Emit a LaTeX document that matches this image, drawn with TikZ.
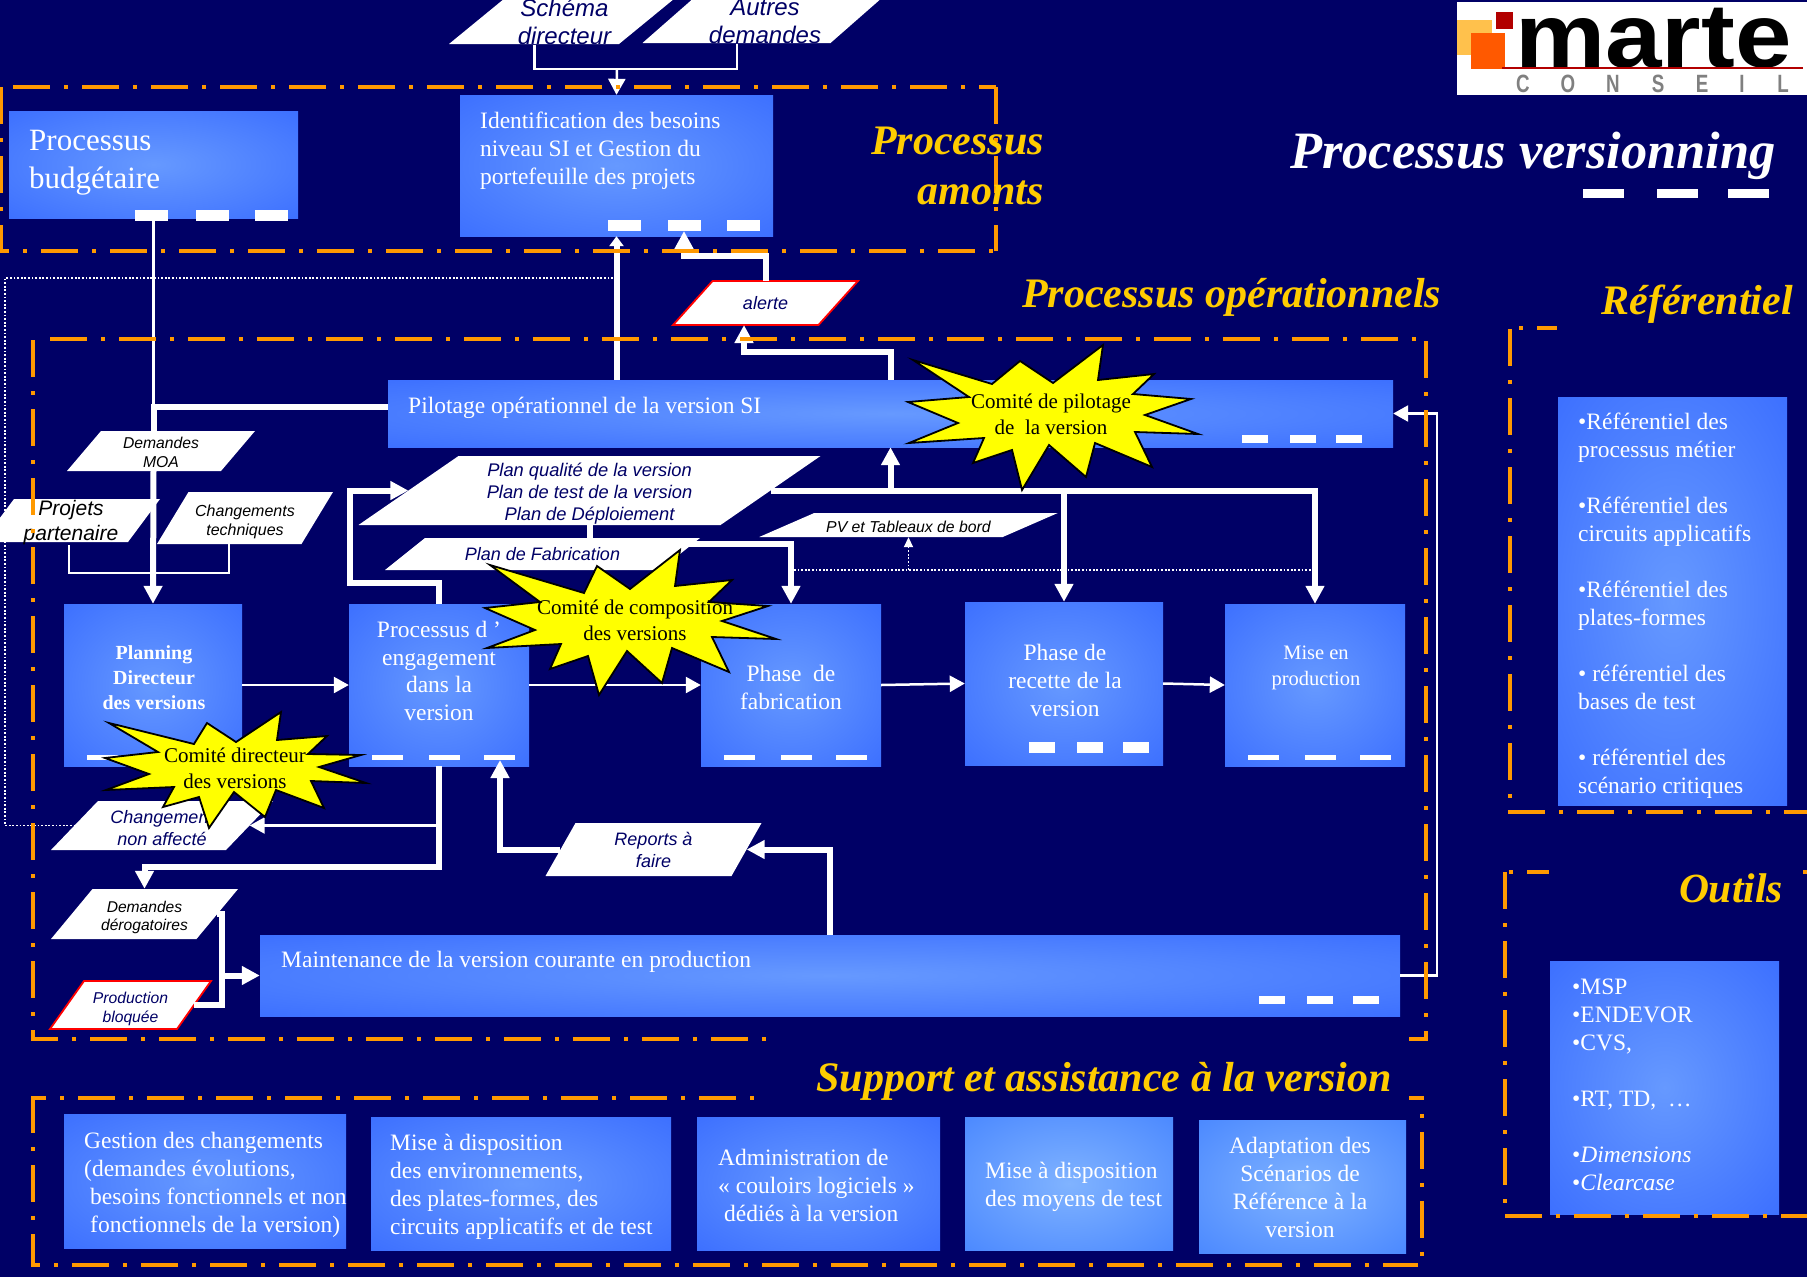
\documentclass[tikz,border=0pt]{standalone}
\usepackage{fontspec}
\setmainfont{Liberation Serif}
\newfontfamily\sheetfont{Liberation Sans}
\usetikzlibrary{arrows.meta}
\definecolor{navybg}{HTML}{000066}
\definecolor{framedash}{HTML}{FF9900}
\definecolor{titlegold}{HTML}{FFCC00}
\definecolor{burstfill}{HTML}{FFFF00}
\definecolor{glowmid}{HTML}{6699FF}
\definecolor{glowedge}{HTML}{3366FF}
\definecolor{softmid}{HTML}{80B3FF}
\definecolor{softedge}{HTML}{3F7FFF}
\pgfdeclareradialshading{panelglow}{\pgfpoint{0bp}{0bp}}{color(0bp)=(glowmid);color(44bp)=(glowedge);color(50bp)=(glowedge)}
\pgfdeclareradialshading{panelsoft}{\pgfpoint{0bp}{0bp}}{color(0bp)=(softmid);color(44bp)=(softedge);color(50bp)=(softedge)}
\newcommand{\fz}[2]{\fontsize{#1}{#2}\selectfont}
\newcommand{\dn}[1]{\rule{0pt}{#1pt}}
% polygon style, name, centre x, centre y, edge width, height, slant, node options, text
\newcommand{\sheetbox}[9][sheetplain]{
\fill[#1] ({#3-#5/2-#7/2},{#4+#6/2})--({#3-#5/2+#7/2},{#4-#6/2})--({#3+#5/2+#7/2},{#4-#6/2})--({#3+#5/2-#7/2},{#4+#6/2})--cycle;
\node (#2) [sheetlabel, #8, minimum width=#5pt, minimum height=#6pt] at (#3,#4) {#9};
}
\tikzset{
panelbox/.style 2 args={shade, shading=panelglow, minimum width=#1pt, minimum height=#2pt, inner sep=0pt},
softbox/.style 2 args={shade, shading=panelsoft, minimum width=#1pt, minimum height=#2pt, inner sep=0pt},
paneltext/.style={text=white, inner sep=0pt, align=left, anchor=west},
panelmid/.style={text=white, inner sep=0pt, align=center},
sheetplain/.style={fill=white},
sheetalert/.style={fill=white, draw=red, line width=1.8pt},
sheetlabel/.style={text=navybg, inner sep=0pt, align=center},
sheetsize/.style 2 args={font=\sheetfont\itshape\fz{#1}{#2}},
fatline/.style={white, line width=6pt},
thinline/.style={white, line width=2.5pt},
thinhead/.style={-{Triangle[length=15pt,width=16pt]}},
dotline/.style={white, line width=1.8pt, dash pattern=on 1.8pt off 1.8pt},
framepath/.style={framedash, line width=4pt, dash pattern=on 37pt off 14pt on 4pt off 14pt},
burst/.style={fill=burstfill, draw=black, line width=1.8pt},
bursttext/.style={text=black, inner sep=0pt, align=center, font=\fz{21}{26}},
headline/.style={text=titlegold, inner sep=0pt},
}
\begin{document}
\begin{tikzpicture}[x=1pt,y=-1pt,>={Triangle[length=18pt,width=18pt]}]
\useasboundingbox (0,0) rectangle (1807,1277);
\clip (0,0) rectangle (1807,1277);
\fill[navybg] (0,0) rectangle (1807,1277);
% logo
\fill[white] (1457,2) rectangle (1807,95);
\fill[orange!70!yellow!70!white] (1457,20) rectangle (1492,55);
\fill[orange!70!red] (1471,33) rectangle (1505,69);
\fill[red!70!black] (1496,12) rectangle (1513,29);
\node (marte) [anchor=base west, inner sep=0pt, font=\sheetfont\bfseries\fz{91}{91}] at (1515,67) {\raisebox{0pt}[60pt][0pt]{\scalebox{1.115}[1]{marte}}};
\draw[red!70!black, line width=1.2pt] (1502,68)--(1803,68);
\foreach \x/\c in {1523/C,1568/O,1613/N,1658/S,1702/E,1742/I,1783/L}
\node (logo\c) [text=gray, inner sep=0pt, font=\sheetfont\bfseries\fz{25}{25}] at (\x,84) {\scalebox{0.75}[1]{\c}};
% processes
\node (budget) [panelbox={289}{107}] at (153.5,164.5) {};
\node (ident) [panelbox={313}{141}] at (616.5,165.5) {};
\node (pilotage) [panelbox={1005}{67}] at (890.5,413.5) {};
\node (planning) [panelbox={178}{162}] at (153,685) {};
\node (engage) [panelbox={180}{162}] at (439,685) {};
\node (fabrique) [panelbox={180}{162}] at (791,685) {};
\node (recette) [panelbox={198}{163}] at (1064,683.5) {};
\node (prod) [panelbox={180}{162}] at (1315,685) {};
\node (maint) [panelbox={1140}{81}] at (830,975.5) {};
\node (gestion) [panelbox={282}{134}] at (205,1181) {};
\node (dispo) [panelbox={300}{133}] at (521,1183.5) {};
\node (admin) [panelbox={243}{133}] at (818.5,1183.5) {};
\node (moyens) [softbox={208}{133}] at (1069,1183.5) {};
\node (adapte) [softbox={207}{133}] at (1302.5,1186.5) {};
\node (referent) [panelbox={229}{408}] at (1672.5,601) {};
\node (outils) [panelbox={229}{253}] at (1664.5,1087.5) {};
% marks
\foreach \x in {135,196,255} \fill[white] (\x,210) rectangle +(33,11);
\foreach \x in {608,668,727} \fill[white] (\x,220) rectangle +(33,11);
\foreach \x in {1242,1290,1336} \fill[white] (\x,435) rectangle +(26,8);
\foreach \x in {1259,1307,1353} \fill[white] (\x,996) rectangle +(26,8);
\foreach \x in {87,143,198,372,429,484,724,781,836,1248,1305,1360} \fill[white] (\x,755) rectangle +(31,5);
\foreach \x in {1029,1077,1123} \fill[white] (\x,742) rectangle +(26,11);
\foreach \x in {1583,1657,1728} \fill[white] (\x,189) rectangle +(41,9);
% sheets
\sheetbox{schema}{564.5}{19}{170}{50}{61}{sheetsize={24}{27.5}}{\dn{23}Sch\'ema\\directeur}
\sheetbox{autres}{765}{18}{188}{50}{57}{sheetsize={24}{27.5}}{\dn{23}Autres\\demandes}
\sheetbox[sheetalert]{alerte}{765.5}{303}{145.5}{44}{39.5}{sheetsize={18}{20}}{alerte}
\sheetbox{moa}{161}{451}{154}{40}{34}{text=black,sheetsize={15.7}{19}}{\dn{13.5}Demandes\\MOA}
\sheetbox{projets}{71}{520.5}{146}{43}{32}{text=black,sheetsize={21}{25}}{\dn{19.5}Projets\\partenaire}
\sheetbox{techn}{245}{518}{144.5}{52}{31.5}{text=black,sheetsize={16}{19}}{\dn{19}Changements\\techniques}
\sheetbox{qualite}{589.5}{490.5}{362}{69}{100}{sheetsize={18.3}{22}}{\dn{20}Plan qualit\'e de la version\\Plan de test de la version\\Plan de D\'eploiement}
\sheetbox{fabplan}{542.5}{554}{275}{32}{40}{sheetsize={18}{21}}{Plan de Fabrication}
\sheetbox{pv}{908.5}{525}{243.5}{24}{55}{text=black,sheetsize={15.8}{18}}{\dn{16}PV et Tableaux de bord}
\sheetbox{reports}{653.5}{849.5}{186}{53}{30}{sheetsize={18}{22}}{\dn{15}Reports \`a\\faire}
\sheetbox{chgt}{162}{825.5}{175}{49}{47}{sheetsize={18}{22}}{\dn{18}Changement\\non affect\'e}
\sheetbox{derog}{144.5}{914}{145.5}{50}{41.5}{text=black,sheetsize={15.6}{18}}{\dn{18}Demandes\\d\'erogatoires}
\sheetbox[sheetalert]{bloquee}{130.5}{1005}{127}{48}{34}{sheetsize={15.7}{19}}{\dn{18.5}Production\\bloqu\'ee}
% hooks
\coordinate (inmerge) at (617,69);
\coordinate (idhook) at (684,231);
\coordinate (alhook) at (744,325);
\coordinate (enghook) at (500,760);
\coordinate (dotstart) at (616.5,278);
\coordinate (dotl) at (794,570);
\coordinate (dotr) at (1311,570);
\coordinate (tiejoin) at (222,1005);
% connectors
\draw[thinline] (schema.south) ++(-30,0) |- (inmerge);
\draw[thinline] (autres.south) ++(-28,0) |- (inmerge);
\draw[thinline,-{Triangle[length=16pt,width=17pt]}] (inmerge)--(ident.north);
\draw[dotline] (dotstart)--(5,278) |- (chgt.west);
\draw[thinline] (budget.south)--(budget.south |- 0,420);
\draw[fatline] ([yshift=6.5pt]pilotage.west) -| (budget.south |- moa.north);
\draw[fatline,->] (budget.south |- moa.south)--(planning.north);
\draw[thinline] (projets.south) ++(-2,0) |- (229,573) -- (229,544);
\draw[fatline,-{Triangle[length=10pt,width=14pt]}] (ident.south |- pilotage.north)--(ident.south);
\draw[fatline,->] (pilotage.north)--++(0,-28) -| (alhook);
\draw[fatline,->] (alerte.north)--++(0,-25) -| (idhook);
\draw[thinline,thinhead] (planning.east)--(engage.west);
\draw[thinline,thinhead] (engage.east)--(fabrique.west);
\draw[thinline,thinhead] (fabrique.east)--(recette.west);
\draw[thinline,thinhead] (recette.east)--(prod.west);
\draw[fatline,->] (engage.north)--++(0,-21)--++(-89,0) |- (qualite.west);
\draw[fatline,->] (qualite.east) -| (prod.north);
\draw[fatline,->] (recette.north |- qualite.east)--(recette.north);
\draw[fatline,->] (pilotage.south |- qualite.east)--(pilotage.south);
\draw[fatline] (qualite.south)--(qualite.south |- fabplan.north);
\draw[fatline,->] ([yshift=10pt]fabplan.east) -| (fabrique.north);
\draw[dotline] (dotl)--(dotr);
\draw[dotline,-{Triangle[length=10pt,width=9pt]}] (pv.south |- dotl)--(pv.south);
\draw[fatline,->] (engage.south)--++(0,101) -| (derog.north);
\draw[thinline,thinhead] (engage.south |- chgt.east)--(chgt.east);
\draw[fatline,->] (reports.west) -| (enghook);
\draw[fatline,->] (maint.north) |- (reports.east);
\draw[fatline] (derog.east) -| (tiejoin)--(bloquee.east);
\draw[fatline,->] (tiejoin |- maint.west)--(maint.west);
\draw[thinline,thinhead] (maint.east)--++(37,0) |- (pilotage.east);
% frames
\draw[framepath] (13,87)--(996,87);
\draw[framepath] (996,87)--(996,251);
\draw[framepath] (1,87)--(1,251);
\draw[framepath,dash phase=28pt] (0,251)--(996,251);
\draw[framepath] (50,339)--(1420,339);
\draw[framepath] (1426,341)--(1426,1041);
\draw[framepath] (33,340)--(33,1041);
\draw[framepath,dash phase=12pt] (33,1039)--(1426,1039);
\draw[framepath,dash phase=24pt] (33,1098)--(1424,1098);
\draw[framepath] (33,1096)--(33,1267);
\draw[framepath,dash phase=30pt] (33,1265)--(1418,1265);
\draw[framepath,dash phase=35pt] (1422,1098)--(1422,1260);
\draw[framepath] (1510,329)--(1510,812);
\draw[framepath,dash phase=42pt] (1510,328)--(1557,328);
\draw[framepath] (1508,812)--(1807,812);
\draw[framepath] (1505,872)--(1505,1216);
\draw[framepath,dash phase=47pt] (1505,872)--(1807,872);
\draw[framepath] (1505,1216)--(1807,1216);
\fill[navybg] (766,1030) rectangle (1409,1108);
\fill[navybg] (1549,860) rectangle (1802,885);
% texts of the panels
\node (budgetlab) [paneltext, font=\fz{31}{38}] at (29,163) {Processus\\budg\'etaire};
\node (identlab) [paneltext, font=\fz{23.5}{28}] at (480,151) {Identification des besoins\\niveau SI et Gestion du\\portefeuille des projets};
\node (pilotlab) [paneltext, font=\fz{23.5}{28}] at (408,408) {Pilotage op\'erationnel de la version SI};
\node (planlab) [panelmid, font=\bfseries\fz{20}{25}] at (154,678) {Planning\\Directeur\\des versions};
\node (engagelab) [panelmid, font=\fz{23.5}{27.7}] at (439,671) {Processus d ’\\engagement\\dans la\\version};
\node (fabriquelab) [panelmid, font=\fz{23.5}{28}] at (791,687) {Phase\ \ de\\fabrication};
\node (recettelab) [panelmid, font=\fz{23.5}{28}] at (1065,680) {Phase de\\recette de la\\version};
\node (prodlab) [panelmid, font=\fz{20.5}{26}] at (1316,668) {Mise en\\production};
\node (maintlab) [paneltext, font=\fz{23.5}{28}] at (281,962) {Maintenance de la version courante en production};
\node (gestionlab) [paneltext, font=\fz{23.5}{28}] at (84,1185) {Gestion des changements\\(demandes \'evolutions,\\\hspace*{6pt}besoins fonctionnels et non\\\hspace*{6pt}fonctionnels de la version)};
\node (dispolab) [paneltext, font=\fz{23.5}{28}] at (390,1187) {Mise \`a disposition\\des environnements,\\des plates-formes, des\\circuits applicatifs et de test};
\node (adminlab) [paneltext, font=\fz{23.5}{28}] at (718,1185) {Administration de\\« couloirs logiciels »\\\hspace*{6pt}d\'edi\'es \`a la version};
\node (moyenslab) [paneltext, font=\fz{23.5}{28}] at (985,1187) {Mise \`a disposition\\des moyens de test};
\node (adaptelab) [panelmid, font=\fz{23.5}{28}] at (1300,1187) {Adaptation des\\Sc\'enarios de\\R\'ef\'erence \`a la\\version};
\node (referentlab) [paneltext, font=\fz{23.5}{28}] at (1578,606) {•R\'ef\'erentiel des\\processus m\'etier\\[28pt]•R\'ef\'erentiel des\\circuits applicatifs\\[28pt]•R\'ef\'erentiel des\\plates-formes\\[28pt]• r\'ef\'erentiel des\\bases de test\\[28pt]• r\'ef\'erentiel des\\sc\'enario critiques};
\node (outilslab) [paneltext, font=\fz{23.5}{28}] at (1572,1085) {•MSP\\•ENDEVOR\\•CVS,\\[28pt]•RT, TD,\ \ …\\[28pt]•\textit{Dimensions}\\•\textit{Clearcase}};
% titles
\node (mainhead) [headline, text=white, anchor=east, font=\bfseries\itshape\fz{52.5}{56}] at (1776,156) {Processus versionning};
\node (amonts) [headline, anchor=east, align=right, font=\bfseries\itshape\fz{42}{50}] at (1044,166) {Processus\\amonts};
\node (operat) [headline, anchor=west, font=\bfseries\itshape\fz{42}{46}] at (1022,297) {Processus op\'erationnels};
\node (refhead) [headline, anchor=east, font=\bfseries\itshape\fz{42}{46}] at (1793,304) {R\'ef\'erentiel};
\node (outhead) [headline, anchor=east, font=\bfseries\itshape\fz{41.5}{46}] at (1783,888) {Outils};
\node (supphead) [headline, anchor=east, font=\bfseries\itshape\fz{42}{46}] at (1392,1081) {Support et assistance \`a la version};
% stars
\draw[burst] (490,565)--(584,593)--(597,566)--(630,589)--(680,550)--(675,586)--(732,580)--(709,602)--(768,606)--(722,621)--(776,639)--(712,637)--(729,672)--(672,648)--(662,683)--(627,651)--(599,695)--(588,656)--(550,669)--(561,644)--(487,648)--(535,630)--(485,608)--(540,602)--cycle;
\draw[burst] (109,723)--(194,744)--(207,723)--(236,742)--(281,712)--(277,740)--(327,736)--(308,754)--(361,755)--(319,767)--(366,783)--(311,781)--(324,808)--(276,790)--(265,817)--(234,792)--(209,828)--(199,797)--(163,807)--(174,787)--(106,790)--(149,774)--(105,758)--(158,752)--cycle;
\draw[burst] (913,360)--(992,384)--(1020,361)--(1053,383)--(1103,345)--(1098,380)--(1154,374)--(1133,394)--(1191,399)--(1145,415)--(1198,434)--(1135,432)--(1152,467)--(1095,443)--(1086,477)--(1049,445)--(1022,490)--(1012,450)--(973,463)--(984,438)--(909,443)--(958,423)--(908,402)--(969,397)--cycle;
\node (compo) [bursttext] at (635,620) {Comit\'e de composition\\des versions};
\node (direct) [bursttext] at (235,768) {Comit\'e directeur\\des versions};
\node (pilocom) [bursttext] at (1051,414) {Comit\'e de pilotage\\de\ \ la version};
\end{tikzpicture}
\end{document}
